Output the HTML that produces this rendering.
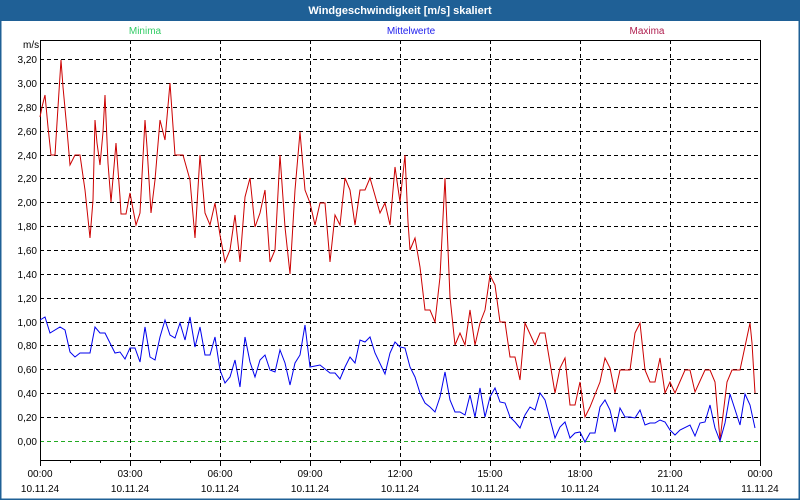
<!DOCTYPE html>
<html><head><meta charset="utf-8"><style>
body{margin:0;width:800px;height:500px;overflow:hidden;background:#fff}
svg{display:block;font-family:"Liberation Sans",sans-serif}
</style></head><body>
<svg width="800" height="500" viewBox="0 0 800 500">
<rect x="0" y="0" width="800" height="500" fill="#fff"/>
<rect x="0" y="0" width="800" height="21" fill="#1f6096"/>
<rect x="0.5" y="0.5" width="799" height="499" fill="none" stroke="#1f6096" stroke-width="2"/>
<text x="400" y="14" fill="#fff" font-size="11" font-weight="bold" text-anchor="middle">Windgeschwindigkeit [m/s] skaliert</text>
<text x="145" y="34" fill="#33cc66" font-size="10" text-anchor="middle">Minima</text>
<text x="411" y="34" fill="#2020ee" font-size="10" text-anchor="middle">Mittelwerte</text>
<text x="647" y="34" fill="#b02050" font-size="10" text-anchor="middle">Maxima</text>
<text x="23" y="48" fill="#000" font-size="10">m/s</text>
<g stroke="#000" stroke-width="1" stroke-dasharray="4,3">
<line x1="40" x2="760" y1="59.5" y2="59.5"/><line x1="40" x2="760" y1="83.5" y2="83.5"/>
<line x1="40" x2="760" y1="107.5" y2="107.5"/><line x1="40" x2="760" y1="131.5" y2="131.5"/>
<line x1="40" x2="760" y1="155.5" y2="155.5"/><line x1="40" x2="760" y1="178.5" y2="178.5"/>
<line x1="40" x2="760" y1="202.5" y2="202.5"/><line x1="40" x2="760" y1="226.5" y2="226.5"/>
<line x1="40" x2="760" y1="250.5" y2="250.5"/><line x1="40" x2="760" y1="274.5" y2="274.5"/>
<line x1="40" x2="760" y1="298.5" y2="298.5"/><line x1="40" x2="760" y1="322.5" y2="322.5"/>
<line x1="40" x2="760" y1="345.5" y2="345.5"/><line x1="40" x2="760" y1="369.5" y2="369.5"/>
<line x1="40" x2="760" y1="393.5" y2="393.5"/><line x1="40" x2="760" y1="417.5" y2="417.5"/>
<line x1="40" x2="760" y1="441.5" y2="441.5"/>
<line x1="130.5" x2="130.5" y1="40" y2="460"/><line x1="220.5" x2="220.5" y1="40" y2="460"/>
<line x1="310.5" x2="310.5" y1="40" y2="460"/><line x1="400.5" x2="400.5" y1="40" y2="460"/>
<line x1="490.5" x2="490.5" y1="40" y2="460"/><line x1="580.5" x2="580.5" y1="40" y2="460"/>
<line x1="670.5" x2="670.5" y1="40" y2="460"/>
</g>
<line x1="40" x2="760" y1="441.5" y2="441.5" stroke="#2a2" stroke-dasharray="4,3"/>
<g stroke="#000" fill="none">
<path d="M40.5 40V460.5H760.5V40M40 40.5H760"/>
<path d="M70.5 460v3M100.5 460v3M130.5 460v6M160.5 460v3M190.5 460v3M220.5 460v6M250.5 460v3M280.5 460v3M310.5 460v6M340.5 460v3M370.5 460v3M400.5 460v6M430.5 460v3M460.5 460v3M490.5 460v6M520.5 460v3M550.5 460v3M580.5 460v6M610.5 460v3M640.5 460v3M670.5 460v6M700.5 460v3M730.5 460v3M760.5 460v6M40.5 460v6"/>
</g>
<g font-size="10" fill="#000" text-anchor="end">
<text x="37" y="63">3,20</text><text x="37" y="87">3,00</text><text x="37" y="111">2,80</text>
<text x="37" y="135">2,60</text><text x="37" y="159">2,40</text><text x="37" y="182">2,20</text>
<text x="37" y="206">2,00</text><text x="37" y="230">1,80</text><text x="37" y="254">1,60</text>
<text x="37" y="278">1,40</text><text x="37" y="302">1,20</text><text x="37" y="326">1,00</text>
<text x="37" y="349">0,80</text><text x="37" y="373">0,60</text><text x="37" y="397">0,40</text>
<text x="37" y="421">0,20</text><text x="37" y="445">0,00</text>
</g>
<g font-size="10" fill="#000" text-anchor="middle">
<text x="40" y="477">00:00</text><text x="40" y="492">10.11.24</text>
<text x="130" y="477">03:00</text><text x="130" y="492">10.11.24</text>
<text x="220" y="477">06:00</text><text x="220" y="492">10.11.24</text>
<text x="310" y="477">09:00</text><text x="310" y="492">10.11.24</text>
<text x="400" y="477">12:00</text><text x="400" y="492">10.11.24</text>
<text x="490" y="477">15:00</text><text x="490" y="492">10.11.24</text>
<text x="580" y="477">18:00</text><text x="580" y="492">10.11.24</text>
<text x="670" y="477">21:00</text><text x="670" y="492">10.11.24</text>
<text x="760" y="477">00:00</text><text x="760" y="492">11.11.24</text>
</g>
<polyline fill="none" stroke="#cc0000" stroke-width="1" points="40,117 42,107 45,95 48,127 51,155 55,155 58,107 61,60 63,87 67,130 70,165 75,155 80,155 85,190 90,238 93,200 95,120 97,143 100,165 103,132 105,95 108,163 111,202 116,143 120,197 121,214 126,214 130,193 136,225 140,213 145,120 147,147 151,213 155,180 160,120 165,140 170,83 175,155 183,155 190,180 195,238 200,155 205,213 210,225 215,203 220,235 225,262 230,250 235,215 240,262 245,197 250,178 255,227 260,213 265,190 270,262 275,250 280,155 285,227 290,274 295,190 300,132 305,190 310,203 315,225 320,203 325,203 330,262 335,215 340,225 345,178 350,190 355,225 360,190 365,190 370,178 380,213 385,203 390,225 395,167 400,202 405,155 408,222 410,250 415,238 420,267 425,310 430,310 435,322 440,277 445,178 450,297 455,345 460,333 465,345 470,310 475,345 480,323 485,310 490,275 495,285 500,322 505,322 510,357 515,357 520,380 525,323 535,345 540,333 545,333 555,393 560,368 565,358 570,405 575,405 580,382 585,417 590,407 600,382 605,358 610,368 615,393 620,370 630,370 635,333 640,323 645,370 650,382 655,382 660,358 665,393 670,382 675,393 685,370 690,370 695,392 705,370 710,370 715,382 720,440 727,382 732,370 740,370 750,323 752,343 755,393"/>
<polyline fill="none" stroke="#0000ee" stroke-width="1" points="40,320 45,317 50,333 60,327 65,330 70,352 75,357 80,353 90,353 95,327 100,333 105,333 110,343 115,353 120,352 125,359 130,348 135,348 140,362 145,327 150,357 155,360 160,337 165,320 170,335 175,338 180,323 185,340 190,317 195,347 200,327 205,355 210,355 215,337 220,370 225,383 230,377 235,360 240,387 245,337 250,362 255,377 260,360 265,355 270,370 275,372 280,350 285,363 290,385 295,363 300,355 305,325 310,367 320,365 330,373 335,373 340,379 345,367 350,357 355,363 360,340 365,342 370,337 375,353 385,374 390,353 395,342 400,347 405,348 410,367 415,377 420,393 425,403 430,407 435,412 440,397 445,372 450,400 455,412 460,412 465,415 470,395 475,417 480,388 485,417 490,397 495,388 500,402 505,403 510,417 515,422 520,428 525,415 530,407 535,410 540,393 545,400 555,438 560,427 565,422 570,438 575,433 580,432 585,442 590,433 595,433 600,407 605,400 610,410 615,432 620,408 625,417 630,417 635,418 640,410 645,425 650,423 655,423 660,420 665,422 670,430 675,435 680,430 690,425 695,436 700,423 705,422 710,405 715,428 720,441 725,423 730,394 740,425 745,394 750,405 755,428"/>
</svg>
</body></html>
